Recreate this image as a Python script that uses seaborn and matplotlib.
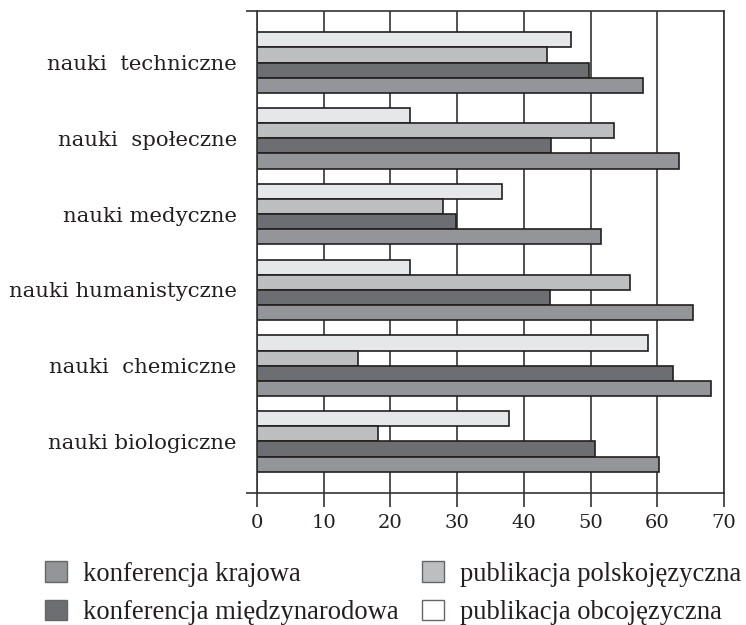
import matplotlib
matplotlib.use("Agg")
import matplotlib.pyplot as plt
from matplotlib.patches import Patch
import seaborn as sns
import pandas as pd

categories = ["nauki  techniczne", "nauki  społeczne", "nauki medyczne",
              "nauki humanistyczne", "nauki  chemiczne", "nauki biologiczne"]
publikacja_obcojezyczna = [47.1, 23.0, 36.7, 22.9, 58.6, 37.8]
publikacja_polskojezyczna = [43.5, 53.5, 27.9, 55.9, 15.2, 18.1]
konferencja_miedzynarodowa = [49.8, 44.0, 29.8, 43.9, 62.4, 50.7]
konferencja_krajowa = [57.8, 63.3, 51.5, 65.3, 68.0, 60.3]

series_names = ["publikacja obcojęzyczna", "publikacja polskojęzyczna",
                "konferencja międzynarodowa", "konferencja krajowa"]
series_values = [publikacja_obcojezyczna, publikacja_polskojezyczna,
                 konferencja_miedzynarodowa, konferencja_krajowa]
colors = {"publikacja obcojęzyczna": "#e6e7e8",
          "publikacja polskojęzyczna": "#bcbec0",
          "konferencja międzynarodowa": "#6d6e71",
          "konferencja krajowa": "#939598"}
xticks = [0, 10, 20, 30, 40, 50, 60, 70]

rows = []
for name, vals in zip(series_names, series_values):
    for c, v in zip(categories, vals):
        rows.append({"kat": c, "val": v, "seria": name})
df = pd.DataFrame(rows)

sns.set_theme(style="white")
plt.rcParams["font.family"] = ["DejaVu Serif"]

fig = plt.figure(figsize=(7.46, 6.25), dpi=100)
ax = fig.add_axes([0.3445, 0.2112, 0.626, 0.7712])
sns.barplot(data=df, y="kat", x="val", hue="seria", hue_order=series_names,
            order=categories, palette=colors, orient="h", width=0.8,
            edgecolor="#231f20", linewidth=1.2, saturation=1, legend=False,
            ax=ax, errorbar=None)
ax.set_xlim(0, 70)
ax.set_ylim(5.68, -0.68)
ax.set_xticks(xticks)
ax.set_xticklabels([str(t) for t in xticks], fontsize=14, color="#231f20")
ax.set_xlabel("")
ax.set_ylabel("")
ax.xaxis.grid(True, color="#333333", linewidth=1.2)
ax.yaxis.grid(False)
ax.set_axisbelow(True)
for s in ax.spines.values():
    s.set_visible(True)
    s.set_color("#333333")
    s.set_linewidth(1.2)
ax.tick_params(axis="x", which="major", bottom=True, length=10, width=1.2,
               color="#333333", pad=5, direction="out")
ax.tick_params(axis="y", which="major", length=0, pad=14.5, labelsize=15.3,
               labelcolor="#231f20")
ax.set_yticks([-0.68, 5.68], minor=True)
ax.tick_params(axis="y", which="minor", left=True, length=8, width=1.2,
               color="#333333")

legend_order = ["konferencja krajowa", "konferencja międzynarodowa",
                "publikacja polskojęzyczna", "publikacja obcojęzyczna"]
handles = [Patch(facecolor=("white" if n == "publikacja obcojęzyczna" else colors[n]),
                 edgecolor="#666666", linewidth=1.0) for n in legend_order]
fig.legend(handles, legend_order, ncol=2, loc="upper left",
           bbox_to_anchor=(0.0603, 0.102), frameon=False,
           prop={"family": "Liberation Serif", "size": 19.2},
           handlelength=0.82, handleheight=0.82, handletextpad=0.6,
           columnspacing=0.9, labelspacing=0.48, borderpad=0,
           borderaxespad=0, labelcolor="#231f20")

fig.savefig("out.png", dpi=100)
